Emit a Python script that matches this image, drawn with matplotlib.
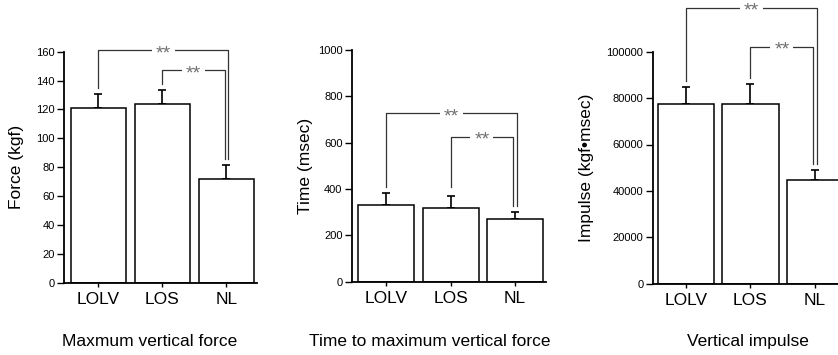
import matplotlib.pyplot as plt
import numpy as np

plt.rcParams['font.family'] = ['Liberation Sans', 'DejaVu Sans']

# Data
categories = ['LOLV', 'LOS', 'NL']

force_mean = [121, 124, 72]
force_sd = [9.5, 9.5, 9.5]

time_mean = [329, 317, 269]
time_sd = [55, 54, 33]

impulse_mean = [77300, 77300, 44800]
impulse_sd = [7600, 8800, 4200]

ylabels = ['Force (kgf)', 'Time (msec)', 'Impulse (kgf\u2022msec)']
titles = ['Maxmum vertical force', 'Time to maximum vertical force', 'Vertical impulse']
ymax = [160, 1000, 100000]
ystep = [20, 200, 20000]
# bracket heights (outer LOLV-NL, inner LOS-NL) in data units
bracket_y = [(161, 147), (727, 626), (118800, 102200)]

W, H = 838, 355
fig = plt.figure(figsize=(W / 100, H / 100), dpi=100)

# axes boxes in pixels: spine x, right end x, y of top tick, y of zero
boxes = [(64.3, 257.0, 51.7, 282.7),
         (352.3, 545.7, 50.0, 281.7),
         (653.0, 846.0, 51.7, 283.7)]
xlims = [(-0.534, 2.477), (-0.528, 2.477), (-0.506, 2.477)]
label_x = [16.7, 305.0, 586.7]
title_x = [150, 430, 748]

means = [force_mean, time_mean, impulse_mean]
sds = [force_sd, time_sd, impulse_sd]

for k in range(3):
    x0, x1, yt, yb = boxes[k]
    ax = fig.add_axes([x0 / W, (H - yb) / H, (x1 - x0) / W, (yb - yt) / H])
    x = np.arange(len(categories))
    m = np.array(means[k], dtype=float)
    s = np.array(sds[k], dtype=float)

    ax.errorbar(x, m, yerr=[np.zeros_like(s), s], fmt='none', ecolor='black',
                elinewidth=1.2, capsize=3, capthick=1.2, zorder=1)
    ax.bar(x, m, width=0.87, color='white', edgecolor='black', linewidth=1.1, zorder=2)

    ax.set_xlim(*xlims[k])
    ax.set_ylim(0, ymax[k])
    ax.set_yticks(np.arange(0, ymax[k] + 1, ystep[k]))
    ax.set_xticks(x)
    ax.set_xticklabels(categories, fontsize=12.5)
    ax.tick_params(axis='y', direction='out', length=5, width=1, labelsize=8, pad=2)
    ax.tick_params(axis='x', direction='out', length=3, width=1, pad=4)
    for side in ['top', 'right']:
        ax.spines[side].set_visible(False)
    for side in ['left', 'bottom']:
        ax.spines[side].set_linewidth(1.3)

    ax.set_ylabel(ylabels[k], fontsize=12.5, va='center')
    ax.yaxis.set_label_coords((label_x[k] - x0) / (x1 - x0), 0.5)

    # significance brackets
    gap = 0.026 * ymax[k]
    tops = m + s + gap
    outer_y, inner_y = bracket_y[k]
    pairs = [(0, 2, outer_y, 0.03), (1, 2, inner_y, -0.03)]
    for i, j, yb_, dx in pairs:
        left_bot = tops[i] if k != 1 else max(tops[0], tops[1])
        xs = [x[i], x[i], x[j] + dx, x[j] + dx]
        ys = [left_bot, yb_, yb_, tops[j]]
        ax.plot(xs, ys, color='#333333', lw=0.9, clip_on=False, zorder=3)
        ax.annotate('**', xy=((x[i] + x[j] + dx) / 2, yb_), xytext=(0, -5.6),
                    textcoords='offset points', ha='center', va='baseline',
                    fontsize=14, color='#707070', annotation_clip=False, zorder=4,
                    bbox=dict(boxstyle='square,pad=0.2', facecolor='white',
                              edgecolor='none'))

    fig.text(title_x[k] / W, (H - 346) / H, titles[k], ha='center', va='baseline',
             fontsize=12.5)

fig.savefig('out.png', dpi=100, facecolor='white')
